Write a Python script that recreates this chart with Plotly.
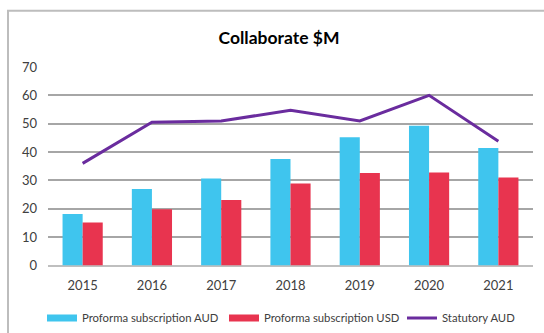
import plotly.graph_objects as go

years = ["2015", "2016", "2017", "2018", "2019", "2020", "2021"]
aud = [18.2, 27.0, 30.7, 37.6, 45.2, 49.3, 41.4]
usd = [15.2, 19.8, 23.1, 28.9, 32.6, 32.8, 31.0]
statutory = [36.0, 50.5, 51.0, 54.7, 51.0, 60.0, 43.8]
yticks = [0, 10, 20, 30, 40, 50, 60, 70]

W, H = 544, 333
L, R, T, B = 48, 11, 67, 65
C_AUD, C_USD, C_STAT = "#3FC5EE", "#E8344F", "#6A2C9E"
FONT = "Lato, Open Sans, sans-serif"

fig = go.Figure()
fig.add_trace(go.Bar(x=years, y=aud, name="Proforma subscription AUD",
                     marker=dict(color=C_AUD, line=dict(width=0)), showlegend=False))
fig.add_trace(go.Bar(x=years, y=usd, name="Proforma subscription USD",
                     marker=dict(color=C_USD, line=dict(width=0)), showlegend=False))
fig.add_trace(go.Scatter(x=years, y=statutory, name="Statutory AUD", mode="lines",
                         line=dict(color=C_STAT, width=3), legend="legend3"))
# legend-only entries drawn as wide swatches
fig.add_trace(go.Scatter(x=[None], y=[None], name="Proforma subscription AUD", mode="lines",
                         line=dict(color=C_AUD, width=7), legend="legend"))
fig.add_trace(go.Scatter(x=[None], y=[None], name="Proforma subscription USD", mode="lines",
                         line=dict(color=C_USD, width=7), legend="legend2"))

pw = W - L - R
ph = H - T - B
fig.add_shape(type="rect", xref="paper", yref="paper",
              x0=(8 - L) / pw, x1=(W + 20 - L) / pw,
              y0=-(H + 20 - T - ph) / ph, y1=(H - B - 10) / ph,
              line=dict(color="#BDBDBD", width=2), layer="below")

leg_common = dict(orientation="h", xref="container", yref="container",
                  xanchor="left", yanchor="middle", y=1 - 318 / H,
                  font=dict(size=11.3, color="#404040", family=FONT),
                  itemwidth=30, bgcolor="rgba(0,0,0,0)")

fig.update_layout(
    width=W, height=H,
    margin=dict(l=L, r=R, t=T, b=B),
    paper_bgcolor="white", plot_bgcolor="white",
    barmode="group", bargap=0.42, bargroupgap=0,
    title=dict(text="<b>Collaborate $M</b>", x=279 / W, xanchor="center",
               y=1 - 38 / H, yanchor="middle",
               font=dict(family=FONT, size=17.5, color="#000000")),
    font=dict(family=FONT, color="#595959"),
    legend=dict(x=(48 - 6) / W, **leg_common),
    legend2=dict(x=(230 - 6) / W, **leg_common),
    legend3=dict(x=(408 - 6) / W, **leg_common),
    showlegend=True,
)
fig.update_xaxes(showgrid=False, showline=False, ticks="",
                 tickfont=dict(size=13, color="#404040"), ticklabelstandoff=10)
fig.update_yaxes(range=[0, 70], tickvals=yticks, showgrid=True,
                 gridcolor="#A6A6A6", gridwidth=1.5, zeroline=True,
                 zerolinecolor="#BFBFBF", zerolinewidth=1.5, showline=False,
                 tickfont=dict(size=13, color="#404040"), ticklabelstandoff=10)

fig.write_html("out.html")
